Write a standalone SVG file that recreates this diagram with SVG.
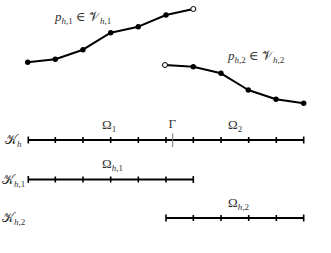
<svg xmlns="http://www.w3.org/2000/svg" width="331" height="253" viewBox="0 0 331 253">
<style>
.poly{fill:none;stroke:#000;stroke-width:2;stroke-linejoin:round}
.dot{fill:#000}
.open{fill:#fff;stroke:#000;stroke-width:1}
.mesh{stroke:#000;stroke-width:2}
.tick{stroke:#000;stroke-width:1.6}
.t{font-family:"Liberation Serif","DejaVu Serif",serif;font-size:13px;fill:#333}
.it{font-style:italic}
.sub{font-size:9px}
</style>
<rect width="331" height="253" fill="#fff"/>
<g id="connectors">
<polyline class="poly" points="27.7,62.3 55.3,59.3 83,49.7 110.7,32.7 138.3,26.7 166,15 193.3,9"/>
<polyline class="poly" points="165,65 193.3,66.7 221,73.3 248.3,90 276,99.3 303.7,103.3"/>
</g>
<g id="p1">
<circle class="dot" cx="27.7" cy="62.3" r="2.7"/>
<circle class="dot" cx="55.3" cy="59.3" r="2.7"/>
<circle class="dot" cx="83" cy="49.7" r="2.7"/>
<circle class="dot" cx="110.7" cy="32.7" r="2.7"/>
<circle class="dot" cx="138.3" cy="26.7" r="2.7"/>
<circle class="dot" cx="166" cy="15" r="2.7"/>
<circle class="open" cx="193.3" cy="9" r="2.5"/>
<text class="t" x="55" y="21"><tspan class="it">p</tspan><tspan class="sub it" dy="3">h</tspan><tspan class="sub" dy="0">,1</tspan><tspan dy="-3"> ∈ </tspan><tspan>𝒱</tspan><tspan class="sub it" dy="3">h</tspan><tspan class="sub">,1</tspan></text>
</g>
<g id="p2">
<circle class="open" cx="165" cy="65" r="2.5"/>
<circle class="dot" cx="193.3" cy="66.7" r="2.7"/>
<circle class="dot" cx="221" cy="73.3" r="2.7"/>
<circle class="dot" cx="248.3" cy="90" r="2.7"/>
<circle class="dot" cx="276" cy="99.3" r="2.7"/>
<circle class="dot" cx="303.7" cy="103.3" r="2.7"/>
<text class="t" x="228" y="60"><tspan class="it">p</tspan><tspan class="sub it" dy="3">h</tspan><tspan class="sub">,2</tspan><tspan dy="-3"> ∈ </tspan><tspan>𝒱</tspan><tspan class="sub it" dy="3">h</tspan><tspan class="sub">,2</tspan></text>
</g>
<g id="mesh-h">
<line class="mesh" x1="28" y1="140" x2="304" y2="140"/>
<path class="tick" d="M28.3,136.5V143.5M55.3,137V143M83,137V143M110.7,137V143M138.3,137V143M166,137V143M193.3,137V143M221,137V143M248.7,137V143M276.3,137V143M303.7,136.5V143.5"/>
<line x1="172.7" y1="133.5" x2="172.7" y2="147" stroke="#777" stroke-width="1"/>
<text class="t" x="5" y="144"><tspan>𝒦</tspan><tspan class="sub it" dy="3">h</tspan></text>
<text class="t" x="102" y="129">Ω<tspan class="sub" dy="3">1</tspan></text>
<text class="t" x="168.5" y="128">Γ</text>
<text class="t" x="228" y="129">Ω<tspan class="sub" dy="3">2</tspan></text>
</g>
<g id="mesh-h1">
<line class="mesh" x1="28" y1="179.5" x2="193.5" y2="179.5"/>
<path class="tick" d="M28.3,176V183M55.3,176.5V182.5M83,176.5V182.5M110.7,176.5V182.5M138.3,176.5V182.5M166,176.5V182.5M193.3,176V183"/>
<text class="t" x="2" y="184"><tspan>𝒦</tspan><tspan class="sub it" dy="3">h</tspan><tspan class="sub">,1</tspan></text>
<text class="t" x="102" y="168">Ω<tspan class="sub it" dy="3">h</tspan><tspan class="sub">,1</tspan></text>
</g>
<g id="mesh-h2">
<line class="mesh" x1="166" y1="218" x2="304" y2="218"/>
<path class="tick" d="M166,214.5V221.5M193.3,215V221M221,215V221M248.7,215V221M276.3,215V221M303.7,214.5V221.5"/>
<text class="t" x="2" y="222"><tspan>𝒦</tspan><tspan class="sub it" dy="3">h</tspan><tspan class="sub">,2</tspan></text>
<text class="t" x="228" y="207">Ω<tspan class="sub it" dy="3">h</tspan><tspan class="sub">,2</tspan></text>
</g>
</svg>
